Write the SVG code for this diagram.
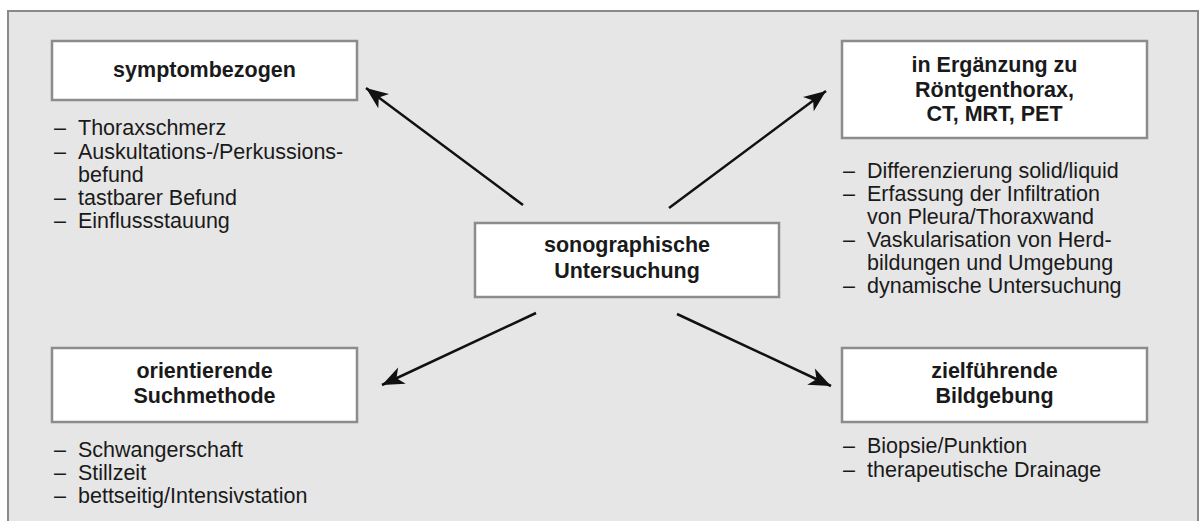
<svg xmlns="http://www.w3.org/2000/svg" width="1204" height="521" viewBox="0 0 1204 521">
<style>
.frame{fill:#e6e6e6;stroke:#8a8a8a;stroke-width:2}
.box{fill:#ffffff;stroke:#8c8c8c;stroke-width:2.5}
.h{font-family:"Liberation Sans",Arial,sans-serif;font-weight:bold;font-size:21.5px;fill:#1a1a1a;text-anchor:middle}
.t{font-family:"Liberation Sans",Arial,sans-serif;font-size:21.5px;fill:#1a1a1a}
.conn{stroke:#111;stroke-width:2.5;fill:none;marker-end:url(#ah)}
</style>
<defs>
<marker id="ah" markerUnits="userSpaceOnUse" markerWidth="28" markerHeight="22" viewBox="-24 -11 26 22" refX="0" refY="0" orient="auto">
<path d="M0,0 L-22,-9 L-16,0 L-22,9 Z" fill="#111"/>
</marker>
</defs>
<rect x="0" y="0" width="1204" height="521" fill="#ffffff"/>
<rect class="frame" x="8" y="11" width="1190" height="520"/>
<g id="connectors">
<line class="conn" x1="523" y1="205" x2="366" y2="88"/>
<line class="conn" x1="669" y1="208" x2="826" y2="91"/>
<line class="conn" x1="536" y1="313" x2="382" y2="385"/>
<line class="conn" x1="677" y1="314" x2="831" y2="386"/>
</g>
<g id="center">
<rect class="box" x="475" y="223" width="304" height="74"/>
<text class="h" x="627" y="252">sonographische</text>
<text class="h" x="627" y="278">Untersuchung</text>
</g>
<g id="symptombezogen">
<rect class="box" x="52" y="41" width="305" height="59"/>
<text class="h" x="204.5" y="77">symptombezogen</text>
<text class="t" x="54" y="135">–</text><text class="t" x="78" y="135">Thoraxschmerz</text>
<text class="t" x="54" y="159">–</text><text class="t" x="78" y="159">Auskultations-/Perkussions-</text>
<text class="t" x="78" y="182">befund</text>
<text class="t" x="54" y="205">–</text><text class="t" x="78" y="205">tastbarer Befund</text>
<text class="t" x="54" y="228">–</text><text class="t" x="78" y="228">Einflussstauung</text>
</g>
<g id="ergaenzung">
<rect class="box" x="842" y="41" width="305" height="97"/>
<text class="h" x="994.5" y="72">in Ergänzung zu</text>
<text class="h" x="994.5" y="97">Röntgenthorax,</text>
<text class="h" x="994.5" y="121">CT, MRT, PET</text>
<text class="t" x="843" y="178">–</text><text class="t" x="867" y="178">Differenzierung solid/liquid</text>
<text class="t" x="843" y="201">–</text><text class="t" x="867" y="201">Erfassung der Infiltration</text>
<text class="t" x="867" y="224">von Pleura/Thoraxwand</text>
<text class="t" x="843" y="247">–</text><text class="t" x="867" y="247">Vaskularisation von Herd-</text>
<text class="t" x="867" y="270">bildungen und Umgebung</text>
<text class="t" x="843" y="293">–</text><text class="t" x="867" y="293">dynamische Untersuchung</text>
</g>
<g id="orientierende">
<rect class="box" x="52" y="348" width="305" height="74"/>
<text class="h" x="204.5" y="378">orientierende</text>
<text class="h" x="204.5" y="403">Suchmethode</text>
<text class="t" x="54" y="457">–</text><text class="t" x="78" y="457">Schwangerschaft</text>
<text class="t" x="54" y="480">–</text><text class="t" x="78" y="480">Stillzeit</text>
<text class="t" x="54" y="503">–</text><text class="t" x="78" y="503">bettseitig/Intensivstation</text>
</g>
<g id="zielfuehrende">
<rect class="box" x="842" y="348" width="305" height="74"/>
<text class="h" x="994.5" y="378">zielführende</text>
<text class="h" x="994.5" y="403">Bildgebung</text>
<text class="t" x="843" y="453">–</text><text class="t" x="867" y="453">Biopsie/Punktion</text>
<text class="t" x="843" y="477">–</text><text class="t" x="867" y="477">therapeutische Drainage</text>
</g>
</svg>
